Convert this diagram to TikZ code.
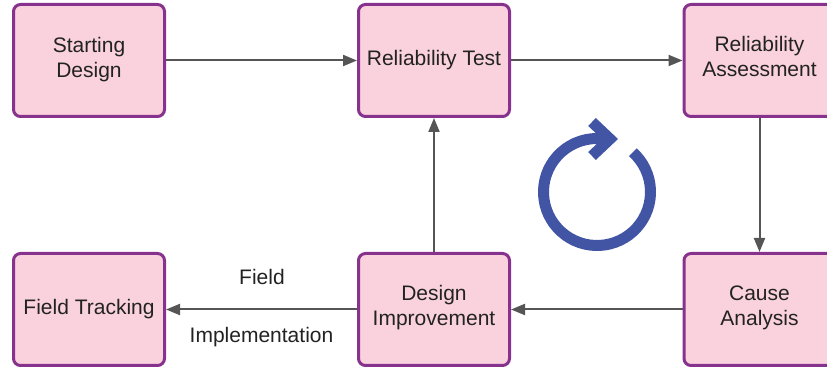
\documentclass[tikz,border=0pt]{standalone}
\usepackage{fontspec}
\setmainfont{Liberation Sans}
\usetikzlibrary{arrows.meta}
\definecolor{boxfill}{RGB}{249,210,221}
\definecolor{boxdraw}{RGB}{135,50,140}
\definecolor{arrowgray}{RGB}{85,85,85}
\definecolor{icon}{RGB}{66,84,164}
\definecolor{txt}{RGB}{34,34,34}
\newcommand\liftup[2]{\raisebox{#1}[\height][\depth]{\begin{tabular}{@{}c@{}}#2\end{tabular}}}
\begin{document}
\begin{tikzpicture}[x=1pt,y=1pt,
  stepbox/.style={draw=boxdraw, fill=boxfill, line width=3pt, rounded corners=7pt,
    minimum width=151pt, minimum height=112pt, inner sep=0pt, align=center,
    text=txt, font=\fontsize{21}{25}\selectfont},
  lbl/.style={text=txt, font=\fontsize{21}{25}\selectfont, inner sep=0pt},
  conn/.style={draw=arrowgray, line width=2pt, -{Triangle[length=14pt,width=11pt]}},
  ring/.style={draw=icon, line width=11pt}]
\useasboundingbox (0,0) rectangle (827,371);
\clip (0,0) rectangle (827,371);
\node[stepbox] (sd) at (89,310.5) {\liftup{0.5pt}{Starting\\Design}};
\node[stepbox] (rt) at (434,310.5) {Reliability Test};
\node[stepbox] (ra) at (759.5,310.5) {\liftup{1pt}{Reliability\\Assessment}};
\node[stepbox] (ft) at (89,61.5) {Field Tracking};
\node[stepbox] (di) at (434,61.5) {\liftup{1pt}{Design\\Improvement}};
\node[stepbox] (ca) at (759.5,61.5) {\liftup{1pt}{Cause\\Analysis}};
\draw[conn] (sd.east) -- (rt.west);
\draw[conn] (rt.east) -- (ra.west);
\draw[conn] (ra.south) -- (ca.north);
\draw[conn] (ca.west) -- (di.east);
\draw[conn] (di.west) -- (ft.east);
\draw[conn] (di.north) -- (rt.south);
\node[lbl, anchor=base] (fl) at (262,86) {Field};
\node[lbl, anchor=base] (il) at (261.5,28) {Implementation};
\coordinate (ic) at (597,179);
\draw[ring] (ic) ++(48:53.5) arc[start angle=48, end angle=-270, radius=53.5] -- ++(13,0) coordinate (tip);
\draw[ring, line join=miter] (592,249) -- (610,232) -- (592,215);
\end{tikzpicture}
\end{document}
